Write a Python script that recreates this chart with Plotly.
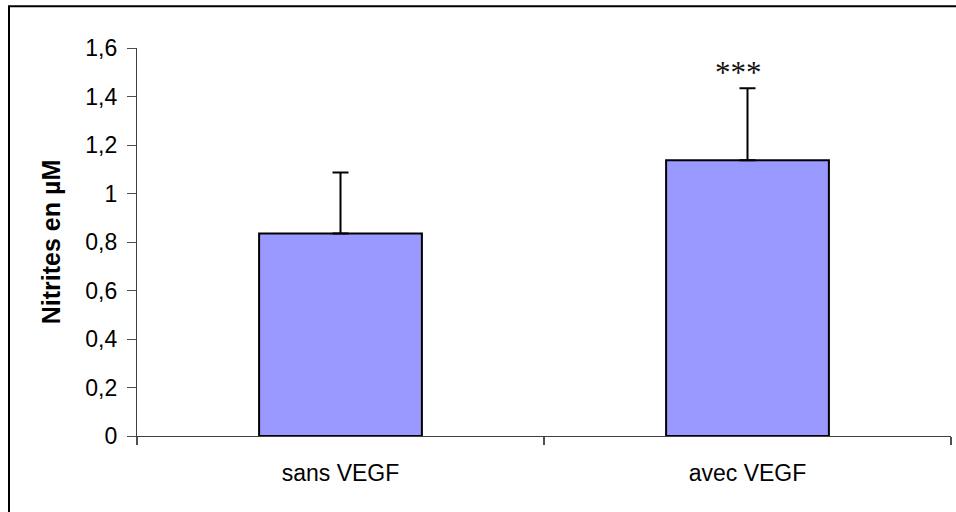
import plotly.graph_objects as go

categories = ["sans VEGF", "avec VEGF"]
values = [0.835, 1.137]
errors_plus = [0.252, 0.297]
significance = ["", "***"]
y_ticks = [0, 0.2, 0.4, 0.6, 0.8, 1.0, 1.2, 1.4, 1.6]
y_tick_labels = ["0", "0,2", "0,4", "0,6", "0,8", "1", "1,2", "1,4", "1,6"]

fig = go.Figure()
fig.add_trace(go.Bar(
    x=categories, y=values,
    marker=dict(color="#9999FF", line=dict(color="black", width=2)),
    error_y=dict(type="data", symmetric=False, array=errors_plus,
                 arrayminus=[0] * len(values), color="black", thickness=2, width=8),
    width=0.4,
    showlegend=False,
))

for c, v, e, s in zip(categories, values, errors_plus, significance):
    if s:
        fig.add_annotation(x=c, y=v + e, text=s, showarrow=False, xanchor="center",
                           yanchor="bottom", xshift=-9, yshift=-4,
                           font=dict(family="Liberation Serif", size=31, color="#111111"))

fig.update_layout(
    width=956, height=512,
    margin=dict(l=137, r=5, t=48, b=76),
    paper_bgcolor="white", plot_bgcolor="white",
    font=dict(family="Liberation Sans, Arial", size=23, color="black"),
    xaxis=dict(
        showline=True, linecolor="#404040", linewidth=1.2,
        ticks="outside", tickson="boundaries", ticklen=8, tickcolor="#505050", tickwidth=1.5,
        ticklabelstandoff=16, showgrid=False, zeroline=False,
    ),
    yaxis=dict(
        range=[0, 1.6], tickvals=y_ticks, ticktext=y_tick_labels,
        showline=True, linecolor="#404040", linewidth=1.2,
        ticks="outside", ticklen=9, tickcolor="#505050", tickwidth=1.2,
        ticklabelstandoff=5, showgrid=False, zeroline=False,
        title=dict(text="<b>Nitrites en µM</b>", font=dict(size=25), standoff=17),
    ),
    shapes=[dict(type="rect", xref="paper", yref="paper",
                 x0=(9 - 137) / 814, x1=1.2, y0=-0.5, y1=(435.7 - 6) / 388,
                 line=dict(color="black", width=2), fillcolor="rgba(0,0,0,0)", layer="below")],
)

fig.write_html("out.html", config={"displayModeBar": False},
               post_script="document.body.style.margin='0';")
